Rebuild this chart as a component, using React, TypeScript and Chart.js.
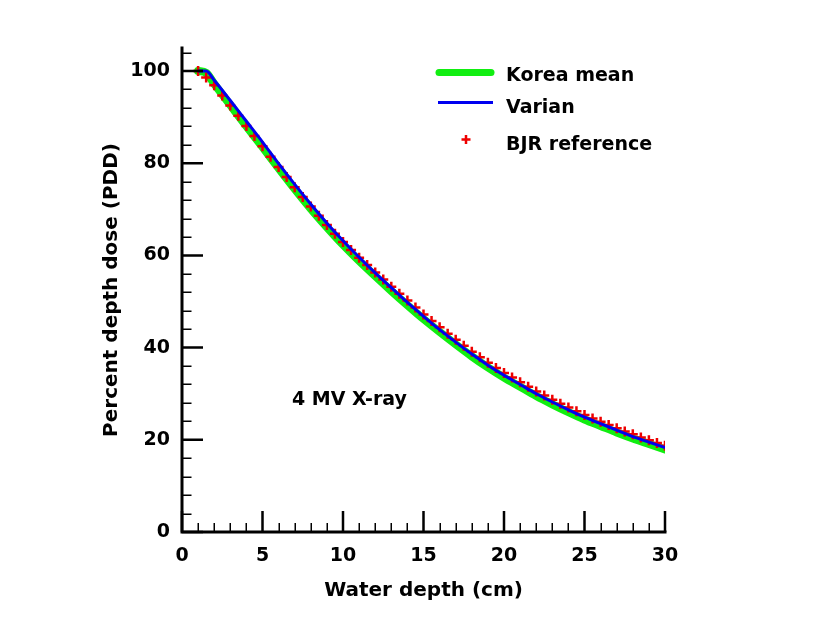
import React, { useEffect, useRef } from 'react';
import { Chart, registerables } from 'chart.js';

Chart.register(...registerables);

// ---- Data ----
const seriesNames = ['Korea mean', 'Varian', 'BJR reference'];

const curveDepth = [1, 1.5, 2, 3, 4, 5, 6, 7, 8, 9, 10, 11, 12, 13, 14, 15, 16, 17, 18, 19, 20, 21, 22, 23, 24, 25, 26, 27, 28, 29, 30];

const koreaMean = [100.0, 99.6, 97.2, 92.6, 88.0, 83.5, 78.9, 74.4, 70.1, 66.1, 62.3, 58.8, 55.5, 52.3, 49.2, 46.2, 43.4, 40.7, 38.1, 35.7, 33.5, 31.5, 29.5, 27.7, 26.0, 24.4, 23.0, 21.6, 20.3, 19.1, 17.9];

const varian = [100.0, 100.0, 98.0, 93.6, 89.1, 84.6, 79.9, 75.4, 71.1, 67.0, 63.2, 59.6, 56.2, 53.0, 49.8, 46.8, 43.9, 41.2, 38.6, 36.2, 34.0, 32.0, 30.0, 28.2, 26.5, 24.9, 23.5, 22.1, 20.7, 19.5, 18.3];

const bjrDepth = [1, 1.5, 2, 2.5, 3, 3.5, 4, 4.5, 5, 5.5, 6, 6.5, 7, 7.5, 8, 8.5, 9, 9.5, 10, 10.5, 11, 11.5, 12, 12.5, 13, 13.5, 14, 14.5, 15, 15.5, 16, 16.5, 17, 17.5, 18, 18.5, 19, 19.5, 20, 20.5, 21, 21.5, 22, 22.5, 23, 23.5, 24, 24.5, 25, 25.5, 26, 26.5, 27, 27.5, 28, 28.5, 29, 29.5, 30];

const bjrReference = [100.0, 98.6, 96.9, 94.7, 92.5, 90.3, 88.1, 85.9, 83.7, 81.4, 79.2, 77.0, 74.8, 72.7, 70.6, 68.6, 66.6, 64.7, 62.9, 61.2, 59.5, 57.9, 56.3, 54.8, 53.2, 51.7, 50.2, 48.7, 47.2, 45.8, 44.4, 43.0, 41.7, 40.4, 39.1, 37.9, 36.7, 35.6, 34.5, 33.5, 32.5, 31.5, 30.5, 29.6, 28.7, 27.8, 27.0, 26.2, 25.4, 24.6, 23.9, 23.2, 22.5, 21.8, 21.2, 20.5, 19.9, 19.3, 18.7];

const xMajorTicks = [0, 5, 10, 15, 20, 25, 30];
const xTickLabels = ['0', '5', '10', '15', '20', '25', '30'];
const xMinorTicks = [1, 2, 3, 4, 6, 7, 8, 9, 11, 12, 13, 14, 16, 17, 18, 19, 21, 22, 23, 24, 26, 27, 28, 29];
const yMajorTicks = [0, 20, 40, 60, 80, 100];
const yTickLabels = ['0', '20', '40', '60', '80', '100'];
const yMinorTicks = [4, 8, 12, 16, 24, 28, 32, 36, 44, 48, 52, 56, 64, 68, 72, 76, 84, 88, 92, 96, 104];

const annotationText = '4 MV X-ray';
const annotationAt = { x: 10.4, y: 27.6 };

const xTitle = 'Water depth (cm)';
const yTitle = 'Percent depth dose (PDD)';

// ---- Styles ----
const FONT = '"DejaVu Sans", "Liberation Sans", Arial, sans-serif';
const GREEN = '#11ee11';
const BLUE = '#0000f0';
const RED = '#ee0000';

const decorPlugin = {
  id: 'decor',
  afterDraw(chart: any) {
    const { ctx, chartArea: a, scales } = chart;
    const xs = scales.x;
    const ys = scales.y;
    ctx.save();
    ctx.strokeStyle = '#000';
    ctx.lineCap = 'butt';
    // minor ticks
    ctx.lineWidth = 1.5;
    ctx.beginPath();
    xMinorTicks.forEach((v) => {
      const px = Math.round(xs.getPixelForValue(v)) + 0.25;
      ctx.moveTo(px, a.bottom);
      ctx.lineTo(px, a.bottom - 9);
    });
    yMinorTicks.forEach((v) => {
      const py = Math.round(ys.getPixelForValue(v)) + 0.25;
      ctx.moveTo(a.left, py);
      ctx.lineTo(a.left + 9.5, py);
    });
    ctx.stroke();
    // major ticks
    ctx.lineWidth = 2.5;
    ctx.beginPath();
    xMajorTicks.forEach((v) => {
      const px = xs.getPixelForValue(v);
      ctx.moveTo(px, a.bottom);
      ctx.lineTo(px, a.bottom - 21);
    });
    yMajorTicks.forEach((v) => {
      const py = ys.getPixelForValue(v);
      ctx.moveTo(a.left, py);
      ctx.lineTo(a.left + 21, py);
    });
    ctx.stroke();
    // axes
    ctx.lineWidth = 3;
    ctx.lineCap = 'square';
    ctx.beginPath();
    ctx.moveTo(a.left, a.top);
    ctx.lineTo(a.left, a.bottom);
    ctx.lineTo(a.right, a.bottom);
    ctx.stroke();

    // annotation
    ctx.fillStyle = '#000';
    ctx.font = `bold 19px ${FONT}`;
    ctx.textAlign = 'center';
    ctx.textBaseline = 'alphabetic';
    ctx.fillText(annotationText, xs.getPixelForValue(annotationAt.x), ys.getPixelForValue(annotationAt.y));

    // legend
    ctx.textAlign = 'left';
    ctx.font = `bold 19px ${FONT}`;
    // Korea mean
    ctx.strokeStyle = GREEN;
    ctx.lineWidth = 7;
    ctx.lineCap = 'round';
    ctx.beginPath();
    ctx.moveTo(439, 72.5);
    ctx.lineTo(491, 72.5);
    ctx.stroke();
    ctx.fillText(seriesNames[0], 506, 80.7);
    // Varian
    ctx.strokeStyle = BLUE;
    ctx.lineWidth = 3;
    ctx.lineCap = 'butt';
    ctx.beginPath();
    ctx.moveTo(438, 102.5);
    ctx.lineTo(493, 102.5);
    ctx.stroke();
    ctx.fillText(seriesNames[1], 506, 113.3);
    // BJR reference
    ctx.strokeStyle = RED;
    ctx.lineWidth = 2.5;
    ctx.beginPath();
    ctx.moveTo(466, 135);
    ctx.lineTo(466, 144);
    ctx.moveTo(461.5, 139.5);
    ctx.lineTo(470.5, 139.5);
    ctx.stroke();
    ctx.fillText(seriesNames[2], 506, 150);
    ctx.restore();
  },
};

export default function App() {
  const ref = useRef<HTMLCanvasElement>(null);

  useEffect(() => {
    if (!ref.current) return;
    const tickFont = { family: FONT, size: 19, weight: 'bold' as const };
    const titleFont = { family: FONT, size: 20, weight: 'bold' as const };
    const chart = new Chart(ref.current, {
      type: 'line',
      data: {
        datasets: [
          {
            label: seriesNames[1],
            data: curveDepth.map((d, i) => ({ x: d, y: varian[i] })),
            borderColor: BLUE,
            borderWidth: 3,
            pointRadius: 0,
            cubicInterpolationMode: 'monotone',
            fill: false,
            order: 0,
          },
          {
            label: seriesNames[2],
            data: bjrDepth.map((d, i) => ({ x: d, y: bjrReference[i] })),
            showLine: false,
            pointStyle: 'cross',
            pointRadius: 5,
            pointBorderWidth: 2.5,
            borderColor: RED,
            backgroundColor: RED,
            order: 1,
          },
          {
            label: seriesNames[0],
            data: curveDepth.map((d, i) => ({ x: d, y: koreaMean[i] })),
            borderColor: GREEN,
            borderWidth: 8,
            borderCapStyle: 'round',
            borderJoinStyle: 'round',
            pointRadius: 0,
            cubicInterpolationMode: 'monotone',
            fill: false,
            order: 2,
          },
        ],
      },
      options: {
        responsive: false,
        animation: false,
        devicePixelRatio: 1,
        layout: { padding: { left: 82, right: 158, top: 48, bottom: 9 } },
        plugins: { legend: { display: false }, tooltip: { enabled: false } },
        scales: {
          x: {
            type: 'linear',
            min: 0,
            max: 30,
            afterBuildTicks: (s: any) => {
              s.ticks = xMajorTicks.map((v) => ({ value: v }));
            },
            afterFit: (s: any) => {
              s.height = 80;
            },
            ticks: {
              font: tickFont,
              color: '#000',
              padding: 13,
              maxRotation: 0,
              autoSkip: false,
              callback: (v: any) => xTickLabels[xMajorTicks.indexOf(Number(v))] ?? '',
            },
            grid: { display: false, drawTicks: false },
            border: { display: false },
            title: {
              display: true,
              text: xTitle,
              font: titleFont,
              color: '#000',
              padding: { top: 0, bottom: 9 },
            },
          },
          y: {
            type: 'linear',
            min: 0,
            max: 105,
            afterBuildTicks: (s: any) => {
              s.ticks = yMajorTicks.map((v) => ({ value: v }));
            },
            afterFit: (s: any) => {
              s.width = 100;
            },
            ticks: {
              font: tickFont,
              color: '#000',
              padding: 12,
              autoSkip: false,
              callback: (v: any) => yTickLabels[yMajorTicks.indexOf(Number(v))] ?? '',
            },
            grid: { display: false, drawTicks: false },
            border: { display: false },
            title: {
              display: true,
              text: yTitle,
              font: titleFont,
              color: '#000',
              padding: { top: 18, bottom: 0 },
            },
          },
        },
      },
      plugins: [decorPlugin],
    } as any);
    return () => chart.destroy();
  }, []);

  return (
    <div style={{ position: 'absolute', left: 0, top: 0, width: 823, height: 621, background: '#fff' }}>
      <canvas ref={ref} width={823} height={621} style={{ width: 823, height: 621, display: 'block' }} />
    </div>
  );
}
